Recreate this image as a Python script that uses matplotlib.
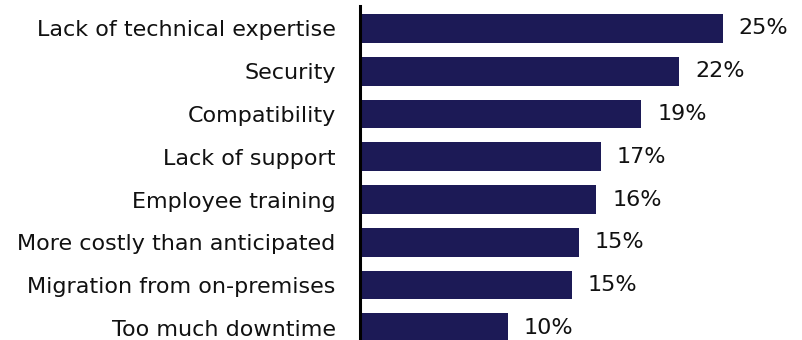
import matplotlib
matplotlib.use("Agg")
import matplotlib.pyplot as plt

categories = [
    "Lack of technical expertise",
    "Security",
    "Compatibility",
    "Lack of support",
    "Employee training",
    "More costly than anticipated",
    "Migration from on-premises",
    "Too much downtime",
]
values = [25.0, 22.0, 19.4, 16.6, 16.3, 15.1, 14.6, 10.2]
value_labels = ["25%", "22%", "19%", "17%", "16%", "15%", "15%", "10%"]

bar_color = "#1c1a56"
font = ["DejaVu Sans"]

fig = plt.figure(figsize=(8.02, 3.40), dpi=100)
ax = fig.add_axes([360 / 802, 0.0, (795 - 360) / 802, 334 / 340])

positions = list(range(len(categories)))
ax.barh(positions, values, height=0.67, color=bar_color, zorder=2)

ax.set_ylim(7.285, -0.526)
ax.set_xlim(0, 30)

for y, v, lab in zip(positions, values, value_labels):
    ax.text(v + 1.1, y, lab, va="center", ha="left", fontsize=16,
            family=font, color="#111111")

ax.set_yticks(positions)
ax.set_yticklabels(categories, fontsize=16, family=font, color="#111111")
ax.tick_params(axis="y", length=0, pad=17.5)
ax.set_xticks([])

for side in ("top", "right", "bottom"):
    ax.spines[side].set_visible(False)
ax.spines["left"].set_linewidth(2.2)
ax.spines["left"].set_color("black")
ax.spines["left"].set_zorder(3)

fig.savefig("out.png", dpi=100)
